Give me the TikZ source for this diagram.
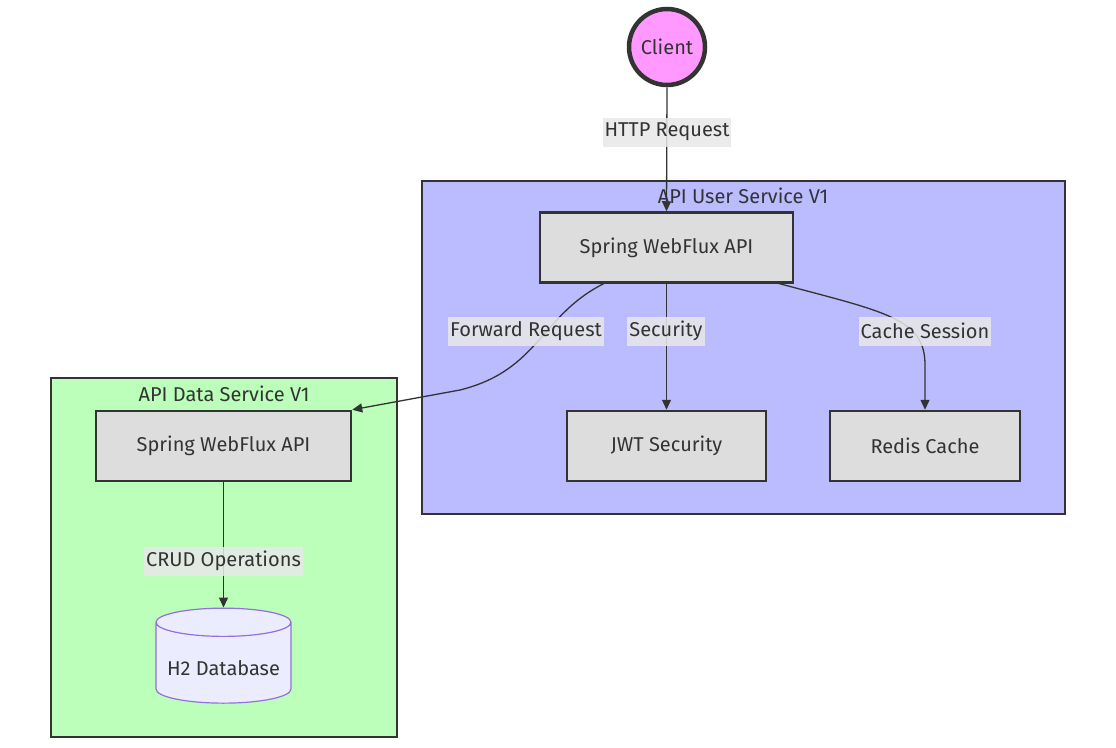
\documentclass[tikz,border=0pt]{standalone}
\usepackage{fontspec}
\setmainfont{Fira Sans}
\usetikzlibrary{arrows.meta,shapes.geometric}
\definecolor{ink}{HTML}{333333}
\definecolor{boxfill}{HTML}{DDDDDD}
\definecolor{userbg}{HTML}{BBBBFF}
\definecolor{databg}{HTML}{BBFFBB}
\definecolor{clientfill}{HTML}{FF99FF}
\definecolor{dbfill}{HTML}{ECECFF}
\definecolor{dbline}{HTML}{9370DB}
\definecolor{lblfill}{HTML}{E8E8E8}
\tikzset{
  txt/.style={font=\fontsize{20}{22}\selectfont, text=ink},
  svcbox/.style={draw=ink, line width=2.5pt, fill=boxfill, minimum height=70pt, txt, inner sep=0pt},
  group/.style={draw=ink, line width=2pt},
  elbl/.style={fill=lblfill, fill opacity=0.85, text opacity=1, txt, inner sep=2pt, minimum height=29pt},
  conn/.style={draw=ink, line width=1.3pt, -{Triangle[length=10pt,width=9pt]}},
}
\begin{document}
\begin{tikzpicture}[x=1pt,y=-1pt]
\useasboundingbox (0,0) rectangle (1116,747);
% groups
\draw[group, fill=userbg] (422,181) rectangle (1065,514);
\node[txt] (usertitle) at (743,196) {API User Service V1};
\draw[group, fill=databg] (51,378) rectangle (397,737);
\node[txt] (datatitle) at (224,394) {API Data Service V1};
% nodes
\node[circle, draw=ink, line width=4.5pt, fill=clientfill, minimum size=76pt, txt, inner sep=0pt] (client) at (667,47) {Client};
\node[svcbox, minimum width=253pt] (api1) at (666.5,247.5) {Spring WebFlux API};
\node[svcbox, minimum width=199pt] (jwt) at (666.5,446) {JWT Security};
\node[svcbox, minimum width=190pt] (redis) at (925,446) {Redis Cache};
\node[svcbox, minimum width=255pt] (api2) at (223.5,446) {Spring WebFlux API};
\node[cylinder, shape border rotate=90, aspect=0.25, draw=dbline, line width=1.2pt, fill=dbfill, minimum width=135pt, minimum height=95pt, txt, inner sep=0pt] (db) at (223.5,663) {\raisebox{-12pt}[0pt][0pt]{H2 Database}};
% connectors
\coordinate (a1s) at (605,283);
\coordinate (a1r) at (777,283);
\draw[conn] (client.south) -- (api1.north);
\draw[conn] (api1.south) -- (jwt.north);
\draw[conn] (a1r) .. controls (885,312) and (925,318) .. (925,365) -- (redis.north);
\draw[conn] (a1s) .. controls (540,315) and (540,370) .. (460,390) -- (api2.north east);
\draw[conn] (api2.south) -- (db.top);
% edge labels
\node[elbl] (l1) at (667,132) {HTTP Request};
\node[elbl] (l2) at (526,331) {Forward Request};
\node[elbl] (l3) at (666,331) {Security};
\node[elbl] (l4) at (925,331) {Cache Session};
\node[elbl] (l5) at (223.5,561) {CRUD Operations};
\end{tikzpicture}
\end{document}
